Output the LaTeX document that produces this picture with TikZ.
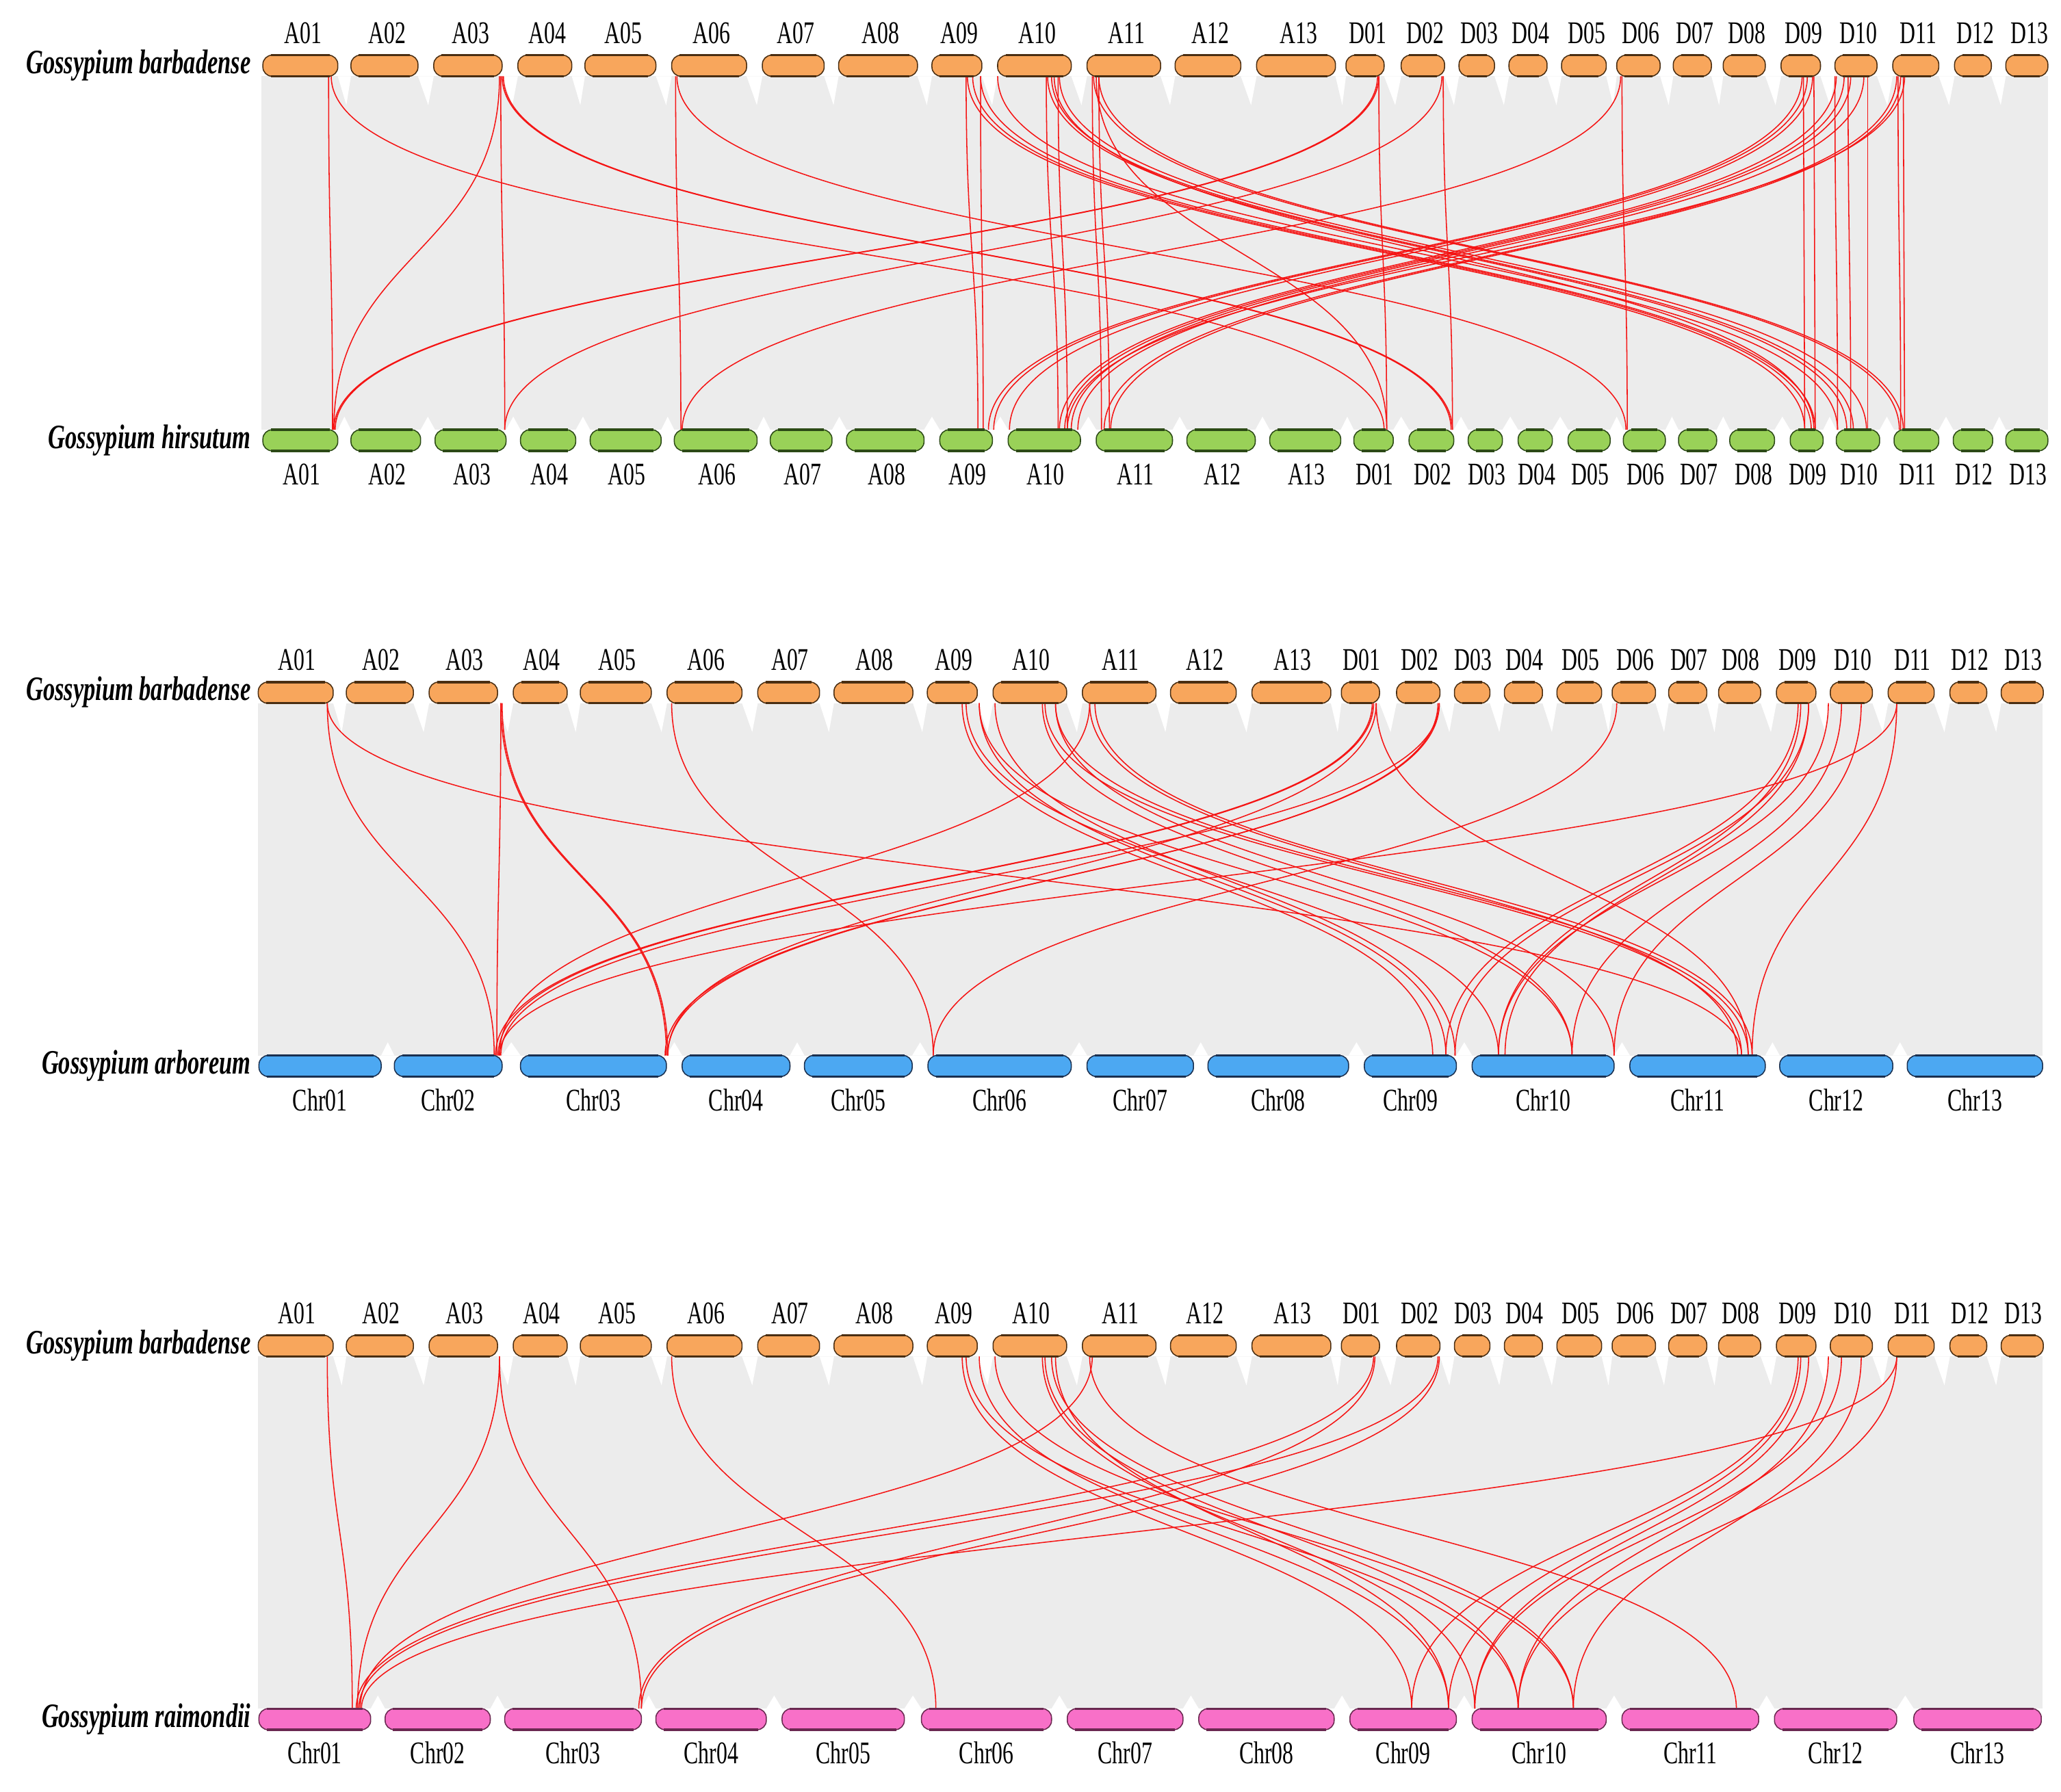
\documentclass[tikz,border=0pt]{standalone}
\usepackage{fontspec}
\newfontfamily\cf[FakeStretch=0.69]{Liberation Serif}
\definecolor{orfill}{RGB}{248,166,92}
\definecolor{orline}{RGB}{74,46,18}
\definecolor{grfill}{RGB}{153,209,88}
\definecolor{grline}{RGB}{44,74,22}
\definecolor{blfill}{RGB}{76,168,242}
\definecolor{blline}{RGB}{26,48,80}
\definecolor{pkfill}{RGB}{248,112,200}
\definecolor{pkline}{RGB}{106,40,80}
\definecolor{bggray}{RGB}{236,236,236}
\definecolor{synred}{RGB}{245,20,20}
\tikzset{
  syn/.style={draw=synred, line width=0.8pt},
  lbl/.style={font=\cf\fontsize{24}{24}\selectfont, inner sep=0pt},
  spc/.style={font=\cf\bfseries\itshape\fontsize{26}{26}\selectfont, inner sep=0pt, anchor=base east},
}
% chromosome bar: x1 x2 ytop fill line
\newcommand\chrbar[5]{%
  \filldraw[fill=#4, draw=#5, line width=0.8pt, rounded corners=7pt] (#1,-#3) rectangle (#2,-#3-16);
  \draw[#5, line width=1.8pt] (#1+6,-#3) -- (#2-6,-#3) (#1+6,-#3-16) -- (#2-6,-#3-16);
}
\newcommand\la[2]{\draw[syn] (#1,-58) .. controls (#1,-192.5) and (#2,-192.5) .. (#2,-327);}
\newcommand\lb[2]{\draw[syn] (#1,-535) .. controls (#1,-669) and (#2,-669) .. (#2,-803);}
\newcommand\lc[2]{\draw[syn] (#1,-1032) .. controls (#1,-1166) and (#2,-1166) .. (#2,-1300);}
\newcommand\toplist{A01/200/257, A02/267/318, A03/330/382, A04/394/435, A05/445/499, A06/511/568, A07/580/627, A08/638/698, A09/709/747, A10/759/815, A11/827/883, A12/894/944, A13/956/1016, D01/1024/1053, D02/1066/1099, D03/1110/1137, D04/1148/1177, D05/1188/1222, D06/1230/1263, D07/1273/1302, D08/1311/1343, D09/1355/1385, D10/1396/1428, D11/1440/1475, D12/1487/1515, D13/1526/1558}
\newcommand\grlist{A01/200/257, A02/267/320, A03/331/385, A04/396/438, A05/449/503, A06/513/576, A07/586/633, A08/644/703, A09/715/755, A10/767/822, A11/834/892, A12/903/955, A13/966/1020, D01/1030/1060, D02/1072/1106, D03/1117/1143, D04/1155/1181, D05/1193/1225, D06/1235/1267, D07/1277/1306, D08/1316/1350, D09/1362/1387, D10/1397/1430, D11/1441/1475, D12/1486/1516, D13/1526/1558}
\newcommand\bllist{Chr01/197/290, Chr02/300/382, Chr03/396/507, Chr04/519/601, Chr05/612/694, Chr06/706/815, Chr07/827/908, Chr08/919/1026, Chr09/1038/1108, Chr10/1120/1228, Chr11/1240/1343, Chr12/1354/1440, Chr13/1451/1554}
\newcommand\pklist{Chr01/197/282, Chr02/293/373, Chr03/384/488, Chr04/499/583, Chr05/595/688, Chr06/701/800, Chr07/812/900, Chr08/912/1015, Chr09/1027/1108, Chr10/1120/1222, Chr11/1234/1338, Chr12/1350/1443, Chr13/1456/1553}
\newcommand\topnotch[2]{%
  \foreach \n/\a/\b [remember=\b as \pb (initially 0)] in #1 {
    \ifnum\pb>0 \fill[white] (\pb,-#2) -- (\a,-#2) -- ({\pb+0.65*(\a-\pb)},-#2-22) -- cycle; \fi
  }}
\newcommand\botnotch[2]{%
  \foreach \n/\a/\b [remember=\b as \pb (initially 0)] in #1 {
    \ifnum\pb>0 \fill[white] (\pb,-#2) -- (\a,-#2) -- ({\pb+0.5*(\a-\pb)},-#2+10) -- cycle; \fi
  }}
\begin{document}
\begin{tikzpicture}[x=1pt,y=1pt]
\useasboundingbox (0,0) rectangle (1568,-1363);
\fill[white] (0,0) rectangle (1568,-1363);
%% ---------------- panel 1 ----------------
\fill[bggray] (199,-58) rectangle (1558,-327);
\topnotch{\toplist}{58}
\botnotch{\grlist}{327}
\la{250}{253}
\la{252}{1053}
\la{381}{384}
\la{380}{254}
\la{382}{1104}
\la{383}{1105}
\la{514}{518}
\la{515}{1237}
\la{1049}{1055}
\la{1048}{254}
\la{1049}{255}
\la{1098}{1105}
\la{1097}{384}
\la{1234}{1238}
\la{1233}{519}
\la{735}{744}
\la{746}{748}
\la{736}{1373}
\la{740}{1378}
\la{746}{1381}
\la{759}{1398}
\la{796}{805}
\la{805}{812}
\la{797}{1405}
\la{800}{1410}
\la{806}{1420}
\la{802}{1380}
\la{831}{838}
\la{836}{844}
\la{832}{1445}
\la{836}{1448}
\la{834}{1055}
\la{1372}{1373}
\la{1380}{1381}
\la{1371}{752}
\la{1375}{756}
\la{1379}{768}
\la{1396}{1398}
\la{1406}{1408}
\la{1421}{1421}
\la{1397}{806}
\la{1403}{810}
\la{1408}{815}
\la{1418}{820}
\la{1444}{1446}
\la{1448}{1449}
\la{1443}{840}
\la{1446}{845}
\la{1449}{812}
\foreach \n/\a/\b in \toplist {
  \chrbar{\a}{\b}{42}{orfill}{orline}
  \node[lbl, anchor=base] at ({(\a+\b)/2+2},-33) {\n};
}
\foreach \n/\a/\b in \grlist {
  \chrbar{\a}{\b}{327}{grfill}{grline}
  \node[lbl, anchor=base] at ({(\a+\b)/2+1},-369) {\n};
}
\node[spc] (sp1) at (191,-56) {Gossypium barbadense};
\node[spc] (sp2) at (191,-341) {Gossypium hirsutum};
%% ---------------- panel 2 ----------------
\fill[bggray] (196,-535) rectangle (1554,-803);
\begin{scope}[xshift=-3.5pt]
\topnotch{\toplist}{535}
\end{scope}
\botnotch{\bllist}{803}
\lb{249}{376}
\lb{249}{1325}
\lb{381}{378}
\lb{381}{507}
\lb{382}{508}
\lb{511}{710}
\lb{732}{1090}
\lb{735}{1140}
\lb{745}{1100}
\lb{745}{1196}
\lb{757}{1107}
\lb{793}{1196}
\lb{795}{1325}
\lb{803}{1228}
\lb{803}{1330}
\lb{829}{1322}
\lb{833}{1333}
\lb{829}{380}
\lb{1044}{377}
\lb{1045}{379}
\lb{1047}{508}
\lb{1047}{1330}
\lb{1095}{381}
\lb{1095}{506}
\lb{1094}{508}
\lb{1230}{710}
\lb{1368}{1100}
\lb{1370}{1140}
\lb{1376}{1107}
\lb{1376}{1145}
\lb{1391}{1140}
\lb{1401}{1196}
\lb{1416}{1228}
\lb{1443}{1333}
\lb{1443}{380}
\begin{scope}[xshift=-3.5pt]
\foreach \n/\a/\b in \toplist {
  \chrbar{\a}{\b}{519}{orfill}{orline}
  \node[lbl, anchor=base] at ({(\a+\b)/2+1},-510) {\n};
}
\end{scope}
\foreach \n/\a/\b in \bllist {
  \chrbar{\a}{\b}{803}{blfill}{blline}
  \node[lbl, anchor=base] at ({(\a+\b)/2},-845) {\n};
}
\node[spc] (sp3) at (191,-533) {Gossypium barbadense};
\node[spc] (sp4) at (191,-817) {Gossypium arboreum};
%% ---------------- panel 3 ----------------
\fill[bggray] (196,-1032) rectangle (1554,-1300);
\begin{scope}[xshift=-3.5pt]
\topnotch{\toplist}{1032}
\end{scope}
\botnotch{\pklist}{1300}
\lc{249}{268}
\lc{380}{272}
\lc{380}{488}
\lc{511}{712}
\lc{732}{1074}
\lc{735}{1155}
\lc{745}{1102}
\lc{757}{1197}
\lc{793}{1122}
\lc{795}{1155}
\lc{800}{1197}
\lc{803}{1102}
\lc{829}{1321}
\lc{831}{274}
\lc{1045}{271}
\lc{1046}{486}
\lc{1094}{273}
\lc{1095}{488}
\lc{1368}{1074}
\lc{1370}{1102}
\lc{1376}{1122}
\lc{1391}{1155}
\lc{1401}{1122}
\lc{1416}{1197}
\lc{1443}{275}
\lc{1443}{1155}
\begin{scope}[xshift=-3.5pt]
\foreach \n/\a/\b in \toplist {
  \chrbar{\a}{\b}{1016}{orfill}{orline}
  \node[lbl, anchor=base] at ({(\a+\b)/2+1},-1007) {\n};
}
\end{scope}
\foreach \n/\a/\b in \pklist {
  \chrbar{\a}{\b}{1300}{pkfill}{pkline}
  \node[lbl, anchor=base] at ({(\a+\b)/2},-1342) {\n};
}
\node[spc] (sp5) at (191,-1030) {Gossypium barbadense};
\node[spc] (sp6) at (191,-1314) {Gossypium raimondii};
\end{tikzpicture}
\end{document}
